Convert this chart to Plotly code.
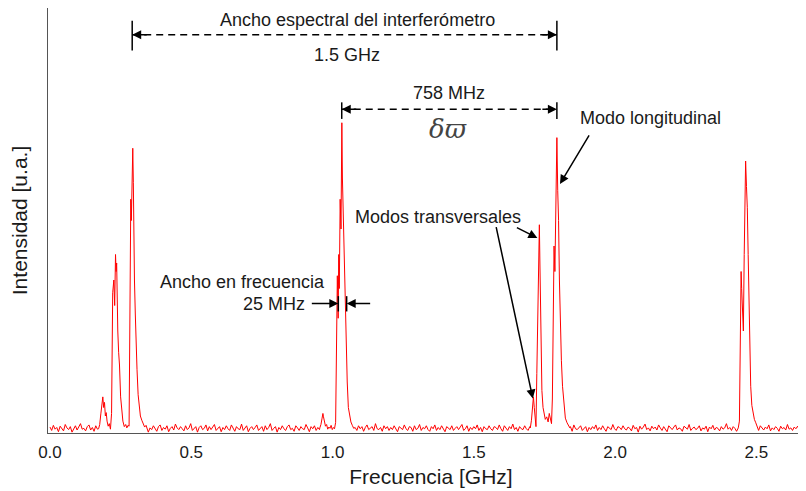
import numpy as np
import plotly.graph_objects as go

# ---------------- data ----------------
# baseline noise, intensity [a.u.] on a regular 0.006 GHz grid starting at 0
paso_ruido = 0.006
ruido = [
    1.4,0.6,1.8,0.9,1.3,0.3,1.6,1.1,0.5,2.0,1.2,0.8,1.5,0.2,1.1,1.7,0.7,1.3,2.2,0.9,
    1.1,0.5,1.5,1.9,0.7,1.3,0.4,1.7,0.9,1.4,2.3,1.0,0.6,1.3,0.1,1.5,0.8,1.7,1.1,0.5,
    1.8,1.2,0.6,1.0,1.6,0.3,1.5,0.8,2.0,1.1,0.5,1.3,1.7,0.6,1.0,2.2,0.8,1.4,0.2,1.2,
    0.8,1.7,1.0,0.4,1.5,1.9,0.6,1.3,0.9,1.7,0.3,1.1,1.5,0.7,2.1,1.2,0.8,1.5,1.0,0.5,
    1.7,0.8,1.2,2.2,0.6,1.0,1.5,0.2,1.3,1.7,0.8,1.1,1.9,0.5,1.5,0.8,1.3,2.0,0.6,1.0,
    1.5,0.3,1.3,0.8,1.7,1.0,0.6,1.9,1.2,0.4,1.5,1.0,0.8,2.1,0.6,1.3,1.7,0.3,1.1,1.5,
    0.8,1.3,1.9,0.6,1.0,1.5,0.4,1.7,0.8,1.3,2.2,0.6,1.1,1.5,0.2,1.3,0.8,1.7,1.0,0.6,
    1.5,1.9,0.8,1.1,0.4,1.7,1.2,0.6,1.5,1.0,0.8,2.0,1.2,0.3,1.5,1.0,1.7,0.6,1.3,0.8,
    1.1,1.7,0.5,1.3,1.5,0.8,1.9,1.0,0.6,1.5,1.2,0.3,1.7,0.8,1.0,2.1,0.6,1.5,1.0,0.8,
    1.3,0.6,1.7,1.0,1.5,0.4,1.3,1.9,0.8,1.1,1.5,0.6,2.2,1.0,0.8,1.3,0.4,1.7,1.0,1.5,
    0.6,1.3,0.8,1.7,1.0,0.3,1.5,1.2,0.8,1.9,1.0,0.6,1.5,1.3,0.4,1.7,0.8,1.1,2.0,0.6,
    1.3,1.0,1.7,0.8,0.4,1.5,1.0,1.9,0.6,1.3,0.8,1.7,1.0,0.3,1.5,1.2,0.8,1.7,0.6,1.1,
    1.5,0.8,1.3,2.0,0.6,1.0,1.7,0.4,1.3,0.8,1.5,1.0,1.9,0.6,1.3,0.3,1.5,1.0,0.8,1.7,
    1.0,0.6,1.5,1.3,0.8,1.9,1.0,0.4,1.7,1.2,0.6,1.5,1.0,2.1,0.8,1.3,0.4,1.5,1.0,0.8,
    1.7,1.0,0.6,1.5,1.2,0.3,1.9,1.0,0.8,1.5,0.6,1.3,1.7,1.0,0.4,1.5,0.8,1.3,2.2,0.6,
    1.0,1.5,0.8,1.3,1.7,0.6,1.0,1.5,0.4,1.9,1.0,0.8,1.3,1.7,0.6,1.0,1.5,0.3,1.3,0.8,
    1.5,1.0,1.9,0.6,1.3,0.8,1.7,1.0,0.4,1.5,1.2,0.8,2.0,1.0,0.6,1.5,1.3,0.8,1.7,1.0,
    0.7,1.4,1.1,0.5,1.8,1.0,1.3,0.2,1.6,0.9,1.4,2.1,0.8,1.2,0.5,1.6,1.0,1.4,0.7,1.9,
    1.2,0.6,1.5,1.0,0.3,1.7,1.1,0.8,1.4,1.9,0.7,1.2,1.0,0.4,1.6,1.3,0.9,2.0,0.6,1.1,
    1.4,0.8,1.1,1.7,0.5,1.2,0.9,1.6,0.3,1.4,1.0,1.8,0.7,1.3,1.1,0.5,1.5,0.9,1.2,2.2,
    0.9,1.3,0.6,1.5,1.1,0.4,1.8,1.0,0.7,1.4,1.2,0.8,1.6,0.3,1.1,1.5,0.9,1.3,0.6,1.7,
    1.1,0.7,1.4,1.0,1.9,0.5,1.2,0.8,1.5,1.1,0.4,1.6,1.0,1.3,0.7,2.0,0.9,1.2,0.6,1.4,
    1.0,1.6,0.8,1.2,0.5,1.4,1.1,1.8,0.7,1.3,0.9,1.5,0.4,1.2,1.0,1.7,0.8,1.1,1.4,0.9,
]

# peak groups: frequency [GHz] and intensity [a.u.]
pico1_x = [0.172,0.176,0.180,0.184,0.187,0.190,0.193,0.196,0.199,0.202,0.206,0.210,0.214,
           0.218,0.222,0.226,0.229,0.232,0.234,0.236,0.238,0.240,0.243,0.246,0.250,0.254,
           0.258,0.263,0.268,0.272,0.276,0.280,0.282,0.284,0.286,0.288,0.291,0.293,0.295,
           0.297,0.299,0.302,0.305,0.308,0.312,0.316,0.320,0.325,0.330,0.335,0.340,0.345]
pico1_y = [1.0,2.0,4.5,6.5,8.5,6.0,7.2,4.0,4.8,2.8,1.6,2.2,0.9,
           4.6,33,36,30,42,38,40,27,24,19,16,8.5,4.5,
           2.8,1.5,2.0,1.2,1.8,1.6,22,42,55,50,64,67,59,
           40,36,28,20,15,9,6,4,3,2.2,1.4,1.8,1.0]

pico2_x = [0.955,0.959,0.963,0.966,0.968,0.971,0.975,0.979,0.983,0.987,0.991,0.995,0.999,
           1.003,1.007,1.011,1.014,1.017,1.020,1.022,1.024,1.027,1.030,1.033,1.035,1.037,
           1.039,1.042,1.045,1.048,1.052,1.056,1.060,1.065,1.070,1.075]
pico2_y = [1.2,2.0,3.5,4.6,3.8,2.5,1.6,2.0,0.9,1.4,1.1,1.8,0.8,
           1.3,1.0,2.5,20,37,27,42,34,55,48,73,60,54,
           46,39,28,20,12,6,4,2.6,1.8,1.1]

pico3_x = [1.700,1.704,1.708,1.711,1.714,1.717,1.720,1.723,1.726,1.729,1.732,1.734,1.736,
           1.738,1.741,1.745,1.749,1.753,1.758,1.763,1.767,1.771,1.775,1.778,1.781,1.784,
           1.787,1.789,1.791,1.794,1.797,1.800,1.803,1.806,1.810,1.814,1.819,1.824,1.830,
           1.835,1.840]
pico3_y = [1.2,3.0,5.5,8.5,6.0,3.0,1.5,14,30,41,49,40,30,
           20,10,6,4.6,3.2,3.8,2.6,4.6,3.4,2.2,8,35,44,
           38,50,58,69.5,57,50,36,25,17,11,6,3.5,2.4,
           1.6,1.2]

pico4_x = [2.436,2.440,2.443,2.446,2.448,2.451,2.454,2.457,2.460,2.462,2.465,2.468,2.471,
           2.474,2.477,2.480,2.484,2.488,2.493,2.498,2.505]
pico4_y = [1.2,2.8,20,38,34,28,24,42,58,64,58,53,42,
           30,18,11,6.5,4.5,3.2,2.4,1.3]

x_ticks = [0.0, 0.5, 1.0, 1.5, 2.0, 2.5]
x_tick_labels = ["0.0", "0.5", "1.0", "1.5", "2.0", "2.5"]

# ---------------- assemble the spectrum ----------------
picos = [(pico1_x, pico1_y), (pico2_x, pico2_y), (pico3_x, pico3_y), (pico4_x, pico4_y)]
xr = np.arange(len(ruido)) * paso_ruido
yr = np.array(ruido)
mask = np.ones(len(xr), dtype=bool)
for px, py in picos:
    mask &= ~((xr >= px[0]) & (xr <= px[-1]))
xs = list(xr[mask])
ys = list(yr[mask])
for px, py in picos:
    xs += px
    ys += py
order = np.argsort(xs)
xs = np.array(xs)[order]
ys = np.array(ys)[order]

FONT = "Liberation Sans, Arial, sans-serif"
TXT = "#1a1a1a"

fig = go.Figure()
fig.add_trace(go.Scatter(x=xs, y=ys, mode="lines",
                         line=dict(color="#ff0000", width=1), hoverinfo="skip",
                         showlegend=False))

shapes = []
annotations = []

def bracket(xa, xb, yline, ybot, ytop):
    shapes.append(dict(type="line", xref="x", yref="y", x0=xa, x1=xb, y0=yline, y1=yline,
                       line=dict(color="black", width=1.5, dash="7px,5px")))
    for xv in (xa, xb):
        shapes.append(dict(type="line", xref="x", yref="y", x0=xv, x1=xv, y0=ybot, y1=ytop,
                           line=dict(color="black", width=1.5)))
    annotations.append(dict(x=xa, y=yline, xref="x", yref="y", ax=16, ay=0, text="",
                            showarrow=True, arrowhead=2, arrowsize=1.2, arrowwidth=1.5,
                            arrowcolor="black", standoff=0))
    annotations.append(dict(x=xb, y=yline, xref="x", yref="y", ax=-16, ay=0, text="",
                            showarrow=True, arrowhead=2, arrowsize=1.2, arrowwidth=1.5,
                            arrowcolor="black", standoff=0))

bracket(0.291, 1.794, 93.7, 90.0, 97.0)
bracket(1.0326, 1.794, 76.2, 73.9, 77.8)

def label(x, y, text, size=18, xanchor="center", **kw):
    annotations.append(dict(x=x, y=y, xref="x", yref="y", text=text, showarrow=False,
                            xanchor=xanchor, yanchor="middle",
                            font=dict(family=FONT, size=size, color=TXT), **kw))

label(1.090, 97.2, "Ancho espectral del interferómetro")
label(1.051, 89.0, "1.5 GHz")
label(1.413, 80.1, "758 MHz")
annotations.append(dict(x=1.409, y=71.5, xref="x", yref="y", text="<i>δϖ</i>",
                        showarrow=False,
                        font=dict(family="DejaVu Serif, serif", size=26, color="#444444")))
label(2.126, 74.2, "Modo longitudinal")
label(1.373, 50.8, "Modos transversales")
label(0.680, 35.5, "Ancho en frecuencia")
label(0.909, 30.4, "25 MHz", xanchor="right")

def arrow(x, y, ax, ay):
    annotations.append(dict(x=x, y=y, xref="x", yref="y", ax=ax, ay=ay, text="",
                            showarrow=True, arrowhead=2, arrowsize=1.2, arrowwidth=1.5,
                            arrowcolor="black", standoff=0))

arrow(1.805, 58.6, 30, -50)
arrow(1.725, 45.9, -22, -11)
arrow(1.709, 8.1, -37, -173)
arrow(1.0205, 30.5, -28, 0)
arrow(1.050, 30.5, 25, 0)
for xv in (1.0205, 1.050):
    shapes.append(dict(type="line", xref="x", yref="y", x0=xv, x1=xv, y0=28.6, y1=32.2,
                       line=dict(color="black", width=1.5)))

# the page body has an 8 px margin, so the figure is shifted by 8 px right/down
fig.update_layout(
    template="none",
    width=806, height=491,
    margin=dict(l=40, r=0, t=0, b=66),
    paper_bgcolor="white", plot_bgcolor="white",
    shapes=shapes, annotations=annotations,
    font=dict(family=FONT, color=TXT),
    xaxis=dict(range=[-0.007, 2.704], showline=True, linecolor="#555555", linewidth=1,
               showgrid=False, zeroline=False, ticks="", automargin=False,
               tickvals=x_ticks, ticktext=x_tick_labels, ticklabelstandoff=4,
               tickfont=dict(family=FONT, size=17, color=TXT),
               title=dict(text="Frecuencia [GHz]", font=dict(family=FONT, size=21, color=TXT),
                          standoff=7)),
    yaxis=dict(range=[0, 100], showline=True, linecolor="#555555", linewidth=1,
               showgrid=False, zeroline=False, ticks="", showticklabels=False,
               automargin=False,
               title=dict(text="Intensidad [u.a.]", font=dict(family=FONT, size=21, color=TXT),
                          standoff=14)),
)

fig.write_html("out.html")
